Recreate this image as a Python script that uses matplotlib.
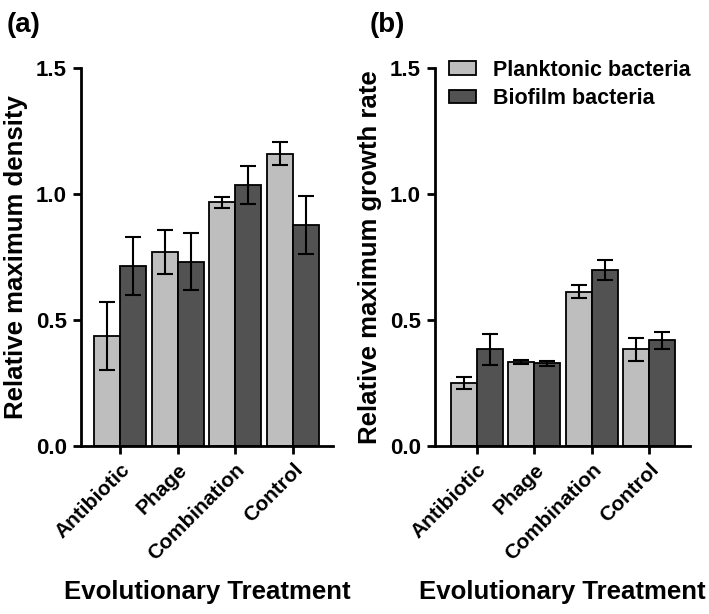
import numpy as np
import matplotlib.pyplot as plt

plt.rcParams['font.family'] = ['Liberation Sans', 'DejaVu Sans']
plt.rcParams['font.weight'] = 'bold'

treatments = ['Antibiotic', 'Phage', 'Combination', 'Control']
series = ['Planktonic bacteria', 'Biofilm bacteria']

# (a) relative maximum density
density_plank = [0.437, 0.769, 0.967, 1.160]
density_plank_err = [0.134, 0.087, 0.021, 0.045]
density_bio = [0.714, 0.732, 1.036, 0.877]
density_bio_err = [0.115, 0.113, 0.075, 0.115]

# (b) relative maximum growth rate
growth_plank = [0.251, 0.333, 0.613, 0.383]
growth_plank_err = [0.023, 0.007, 0.024, 0.044]
growth_bio = [0.383, 0.328, 0.698, 0.419]
growth_bio_err = [0.061, 0.009, 0.039, 0.033]

light = '#bebebe'
dark = '#525252'

fig = plt.figure(figsize=(7.09, 6.14), dpi=100)
ax1 = fig.add_axes([0.1142, 0.2736, 0.3555, 0.6156])
ax2 = fig.add_axes([0.6135, 0.2736, 0.3597, 0.6156])

x = np.arange(len(treatments))
w = 0.45


def draw(ax, p, pe, b, be, ylabel, xlim):
    ax.bar(x - w / 2, p, w, yerr=pe, color=light, edgecolor='black', linewidth=1.3,
           capsize=6, error_kw=dict(elinewidth=1.5, capthick=1.5), label=series[0])
    ax.bar(x + w / 2, b, w, yerr=be, color=dark, edgecolor='black', linewidth=1.3,
           capsize=6, error_kw=dict(elinewidth=1.5, capthick=1.5), label=series[1])
    ax.set_ylim(0, 1.5)
    ax.set_xlim(*xlim)
    ax.set_yticks([0.0, 0.5, 1.0, 1.5])
    ax.set_yticklabels(['0.0', '0.5', '1.0', '1.5'], fontsize=16, fontweight='bold')
    ax.set_xticks(x)
    ax.set_xticklabels(treatments, rotation=45, ha='right', rotation_mode='anchor',
                       fontsize=15, fontweight='bold')
    for s in ['top', 'right']:
        ax.spines[s].set_visible(False)
    for s in ['left', 'bottom']:
        ax.spines[s].set_linewidth(2)
    ax.tick_params(width=2, length=6, direction='out', pad=4)
    ax.set_ylabel(ylabel, fontsize=18.5, fontweight='bold', labelpad=6)
    ax.set_xlabel('Evolutionary Treatment', fontsize=18.5, fontweight='bold', labelpad=12)


draw(ax1, density_plank, density_plank_err, density_bio, density_bio_err,
     'Relative maximum density', (-0.68, 3.70))
draw(ax2, growth_plank, growth_plank_err, growth_bio, growth_bio_err,
     'Relative maximum growth rate', (-0.725, 3.71))

ax2.legend(loc='upper left', bbox_to_anchor=(0.02, 1.045), frameon=False,
           borderaxespad=0, prop={'size': 15.5, 'weight': 'bold'},
           handlelength=1.25, handleheight=0.6, labelspacing=0.35, handletextpad=0.8)

fig.text(0.010, 0.948, '(a)', fontsize=20, fontweight='bold')
fig.text(0.522, 0.948, '(b)', fontsize=20, fontweight='bold')

fig.savefig('out.png', dpi=100)
